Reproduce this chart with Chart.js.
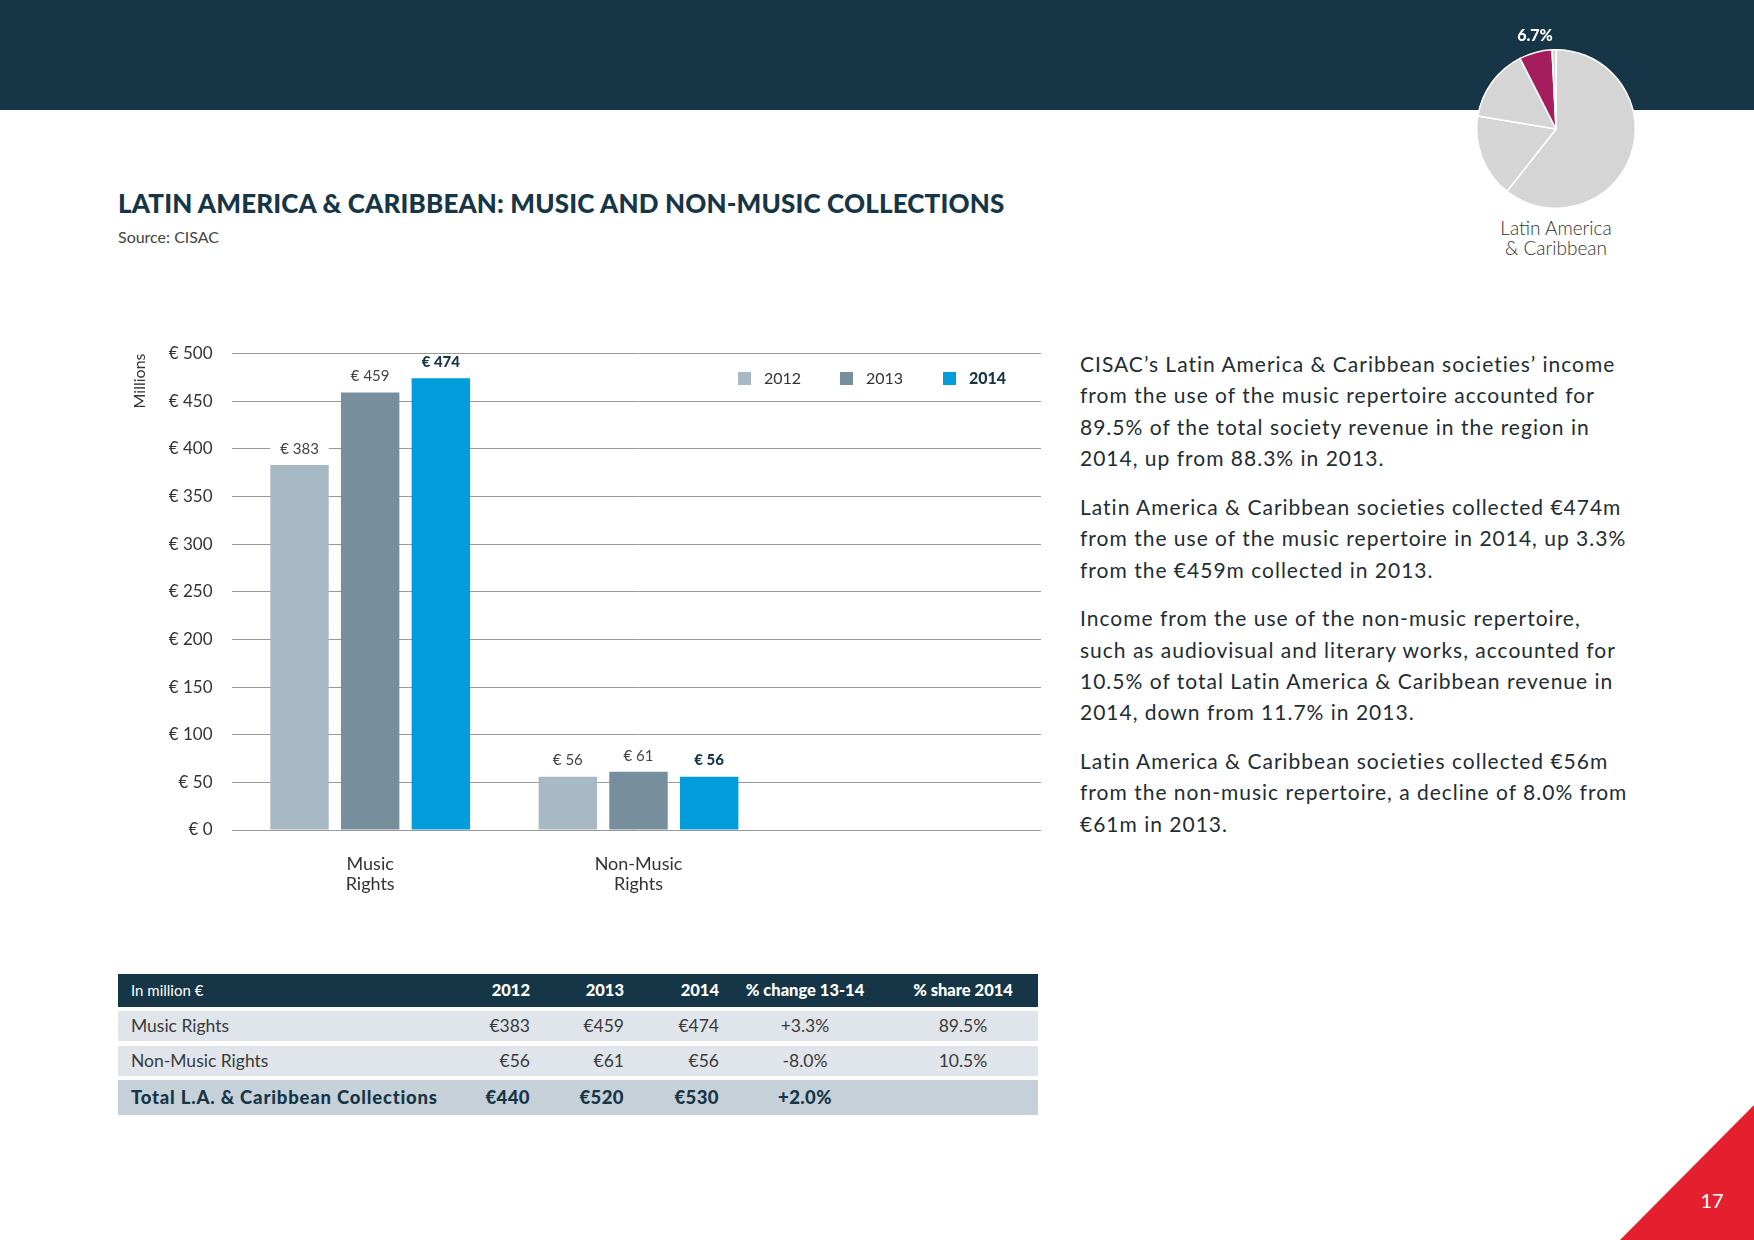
<!DOCTYPE html>
<html>
<head>
<meta charset="utf-8">
<title>Latin America & Caribbean: Music and Non-Music Collections</title>
<script src="https://cdn.jsdelivr.net/npm/chart.js@4.4.1/dist/chart.umd.min.js"></script>
<style>
  html, body { margin: 0; padding: 0; }
  body {
    width: 1754px; height: 1240px; position: relative; overflow: hidden;
    background: #fff; font-family: Lato, "Open Sans", sans-serif; color: #333;
  }
  .band { position: absolute; left: 0; top: 0; width: 1754px; height: 110px; background: #163647; }
  .title {
    position: absolute; left: 118px; top: 190px; font-size: 26px; line-height: 26px;
    font-weight: 900; color: #163647; white-space: nowrap; letter-spacing: 0.15px;
  }
  .source { position: absolute; left: 118px; top: 228px; font-size: 16px; line-height: 18px; color: #444; }
  #barWrap { position: absolute; left: 110px; top: 320px; }
  #pieWrap { position: absolute; left: 1471px; top: 44px; }
  .pieLabel {
    position: absolute; left: 1500px; top: 25px; width: 70px; text-align: center;
    font-size: 16px; line-height: 20px; font-weight: 900; color: #fff;
  }
  .regionName {
    position: absolute; left: 1456px; top: 218px; width: 200px; text-align: center;
    font-size: 19px; line-height: 20px; font-weight: 300; color: #333;
  }
  .legendItem { position: absolute; top: 369px; font-size: 16px; line-height: 18px; color: #333; white-space: nowrap; }
  .legendItem span.sw { position: absolute; top: 3px; width: 13px; height: 13px; }
  .text {
    position: absolute; left: 1080px; top: 348px; width: 640px;
    font-size: 21px; line-height: 31.4px; color: #222d33; letter-spacing: 1px;
  }
  .text p { margin: 0 0 17.2px 0; white-space: nowrap; }
  .row { position: absolute; left: 118px; width: 920px; }
  .cell { position: absolute; top: 0; white-space: nowrap; }
  .corner {
    position: absolute; left: 1620px; top: 1105px; width: 134px; height: 135px;
    background: #e5202e; clip-path: polygon(100% 0, 100% 100%, 0 100%);
  }
  .pageNo { position: absolute; left: 1692px; top: 1188px; width: 40px; text-align: center; font-size: 20px; line-height: 24px; color: #fff; }
</style>
</head>
<body>
<div class="band"></div>
<div id="pieWrap"><canvas id="pieChart" width="170" height="170"></canvas></div>
<div class="pieLabel">6.7%</div>
<div class="regionName">Latin America<br>&amp; Caribbean</div>

<div class="title">LATIN AMERICA &amp; CARIBBEAN: MUSIC AND NON-MUSIC COLLECTIONS</div>
<div class="source">Source: CISAC</div>

<div id="barWrap"><canvas id="barChart" width="940" height="600"></canvas></div>
<div id="legend"></div>

<div class="text">
  <p>CISAC’s Latin America &amp; Caribbean societies’ income<br>from the use of the music repertoire accounted for<br>89.5% of the total society revenue in the region in<br>2014, up from 88.3% in 2013.</p>
  <p>Latin America &amp; Caribbean societies collected €474m<br>from the use of the music repertoire in 2014, up 3.3%<br>from the €459m collected in 2013.</p>
  <p>Income from the use of the non-music repertoire,<br>such as audiovisual and literary works, accounted for<br>10.5% of total Latin America &amp; Caribbean revenue in<br>2014, down from 11.7% in 2013.</p>
  <p>Latin America &amp; Caribbean societies collected €56m<br>from the non-music repertoire, a decline of 8.0% from<br>€61m in 2013.</p>
</div>

<div id="table"></div>

<div class="corner"></div>
<div class="pageNo">17</div>

<script>
// Chart data
const categories = [["Music", "Rights"], ["Non-Music", "Rights"], ""];
const years = ["2012", "2013", "2014"];
const values2012 = [383, 56, null];
const values2013 = [459, 61, null];
const values2014 = [474, 56, null];
const yearColors = ["#a7b9c4", "#778f9c", "#009cdc"];

// Regional share pie (Latin America highlighted)
const pieShares = [60.6, 17.0, 14.9, 6.7, 0.8];
const pieColors = ["#d5d5d5", "#d5d5d5", "#d5d5d5", "#a51d5d", "#d5d5d5"];

// Table
const tableHeader = ["In million €", "2012", "2013", "2014", "% change 13-14", "% share 2014"];
const tableRowNames = ["Music Rights", "Non-Music Rights", "Total L.A. & Caribbean Collections"];
const tableValues = [
  ["€383", "€459", "€474", "+3.3%", "89.5%"],
  ["€56", "€61", "€56", "-8.0%", "10.5%"],
  ["€440", "€520", "€530", "+2.0%", ""],
];

const navy = "#163647";

// value labels above bars, white box hides the gridline behind them
const valueLabels = {
  id: "valueLabels",
  afterDatasetsDraw(chart) {
    const ctx = chart.ctx;
    chart.data.datasets.forEach((ds, i) => {
      const meta = chart.getDatasetMeta(i);
      meta.data.forEach((bar, j) => {
        const v = ds.data[j];
        if (v == null) return;
        const bold = i === 2;
        const y = bar.y - 16;
        ctx.save();
        ctx.fillStyle = "#fff";
        ctx.fillRect(bar.x - bar.width / 2, y - 7, bar.width, 14);
        ctx.font = (bold ? "900 " : "400 ") + "15px Lato";
        ctx.fillStyle = bold ? navy : "#444";
        ctx.textAlign = "center";
        ctx.textBaseline = "middle";
        ctx.fillText("€ " + v, bar.x, y);
        ctx.restore();
      });
    });
  },
};

function buildBarChart() {
  const ctx = document.getElementById("barChart").getContext("2d");
  const series = [values2012, values2013, values2014];
  new Chart(ctx, {
    type: "bar",
    data: {
      labels: categories,
      datasets: years.map((y, i) => ({
        label: y,
        data: series[i],
        backgroundColor: yearColors[i],
        categoryPercentage: 0.79,
        barPercentage: 0.827,
      })),
    },
    options: {
      responsive: false,
      animation: false,
      layout: { padding: { top: 33.5, right: 9, left: 0, bottom: 0 } },
      plugins: { legend: { display: false }, tooltip: { enabled: false } },
      scales: {
        x: {
          grid: { display: false },
          border: { display: false },
          ticks: { color: "#333", font: { family: "Lato", size: 18, lineHeight: 1.1 }, padding: 16, maxRotation: 0 },
          afterFit: (scale) => { scale.height = 90; },
        },
        y: {
          min: 0,
          max: 500,
          border: { display: false },
          grid: { color: "#9a9a9a", lineWidth: 1, drawTicks: true, tickLength: 4 },
          ticks: {
            stepSize: 50,
            padding: 19.5,
            color: "#333",
            font: { family: "Lato", size: 17 },
            callback: (v) => "€ " + v,
          },
          title: {
            display: true,
            text: "Millions",
            align: "end",
            color: "#333",
            font: { family: "Lato", size: 16 },
            padding: { top: 20, bottom: 0 },
          },
          afterFit: (scale) => { scale.width = 126; },
        },
      },
    },
    plugins: [valueLabels],
  });
}

function buildPie() {
  const ctx = document.getElementById("pieChart").getContext("2d");
  new Chart(ctx, {
    type: "pie",
    data: {
      datasets: [{ data: pieShares, backgroundColor: pieColors, borderColor: "#fff", borderWidth: 1.5 }],
    },
    options: {
      responsive: false,
      animation: false,
      layout: { padding: 5 },
      plugins: { legend: { display: false }, tooltip: { enabled: false } },
    },
  });
}

function buildLegend() {
  const swatchX = [738, 840, 943];
  const legend = document.getElementById("legend");
  years.forEach((y, i) => {
    const item = document.createElement("div");
    item.className = "legendItem";
    item.style.left = swatchX[i] + "px";
    item.innerHTML =
      `<span class="sw" style="left:0;background:${yearColors[i]}"></span>` +
      `<span style="position:absolute;left:26px;${i === 2 ? "font-weight:900;color:" + navy : ""}">${y}</span>`;
    legend.appendChild(item);
  });
}

function buildTable() {
  const table = document.getElementById("table");
  // right edges for year columns, centers for percent columns (relative to table left)
  const rightEdges = [412, 506, 601];
  const centers = [687, 845];
  const rows = [
    { top: 974, h: 33, bg: navy },
    { top: 1011, h: 30, bg: "#dfe5ea" },
    { top: 1046, h: 30, bg: "#dfe5ea" },
    { top: 1080, h: 35, bg: "#c5d0d8" },
  ];
  const allRows = [tableHeader].concat(tableRowNames.map((n, i) => [n].concat(tableValues[i])));
  allRows.forEach((cells, r) => {
    const row = document.createElement("div");
    row.className = "row";
    const spec = rows[r];
    row.style.top = spec.top + "px";
    row.style.height = spec.h + "px";
    row.style.background = spec.bg;
    const isHead = r === 0;
    const isTotal = r === 3;
    const color = isHead ? "#fff" : isTotal ? navy : "#3a3a3a";
    cells.forEach((txt, c) => {
      const cell = document.createElement("div");
      cell.className = "cell";
      cell.textContent = txt;
      cell.style.color = color;
      let size = 17.5;
      if (isHead) size = c === 0 ? 15 : 16.5;
      if (isTotal) size = 18.5;
      cell.style.fontSize = size + "px";
      cell.style.lineHeight = spec.h + "px";
      cell.style.fontWeight = (isHead && c > 0) || isTotal ? "900" : "400";
      if (isTotal) cell.style.letterSpacing = c === 0 ? "0.8px" : "0.4px";
      if (c === 0) {
        cell.style.left = "13px";
      } else if (c <= 3) {
        cell.style.right = 920 - rightEdges[c - 1] + "px";
      } else {
        cell.style.left = centers[c - 4] - 80 + "px";
        cell.style.width = "160px";
        cell.style.textAlign = "center";
      }
      row.appendChild(cell);
    });
    table.appendChild(row);
  });
}

buildBarChart();
buildPie();
buildLegend();
buildTable();
</script>
</body>
</html>
